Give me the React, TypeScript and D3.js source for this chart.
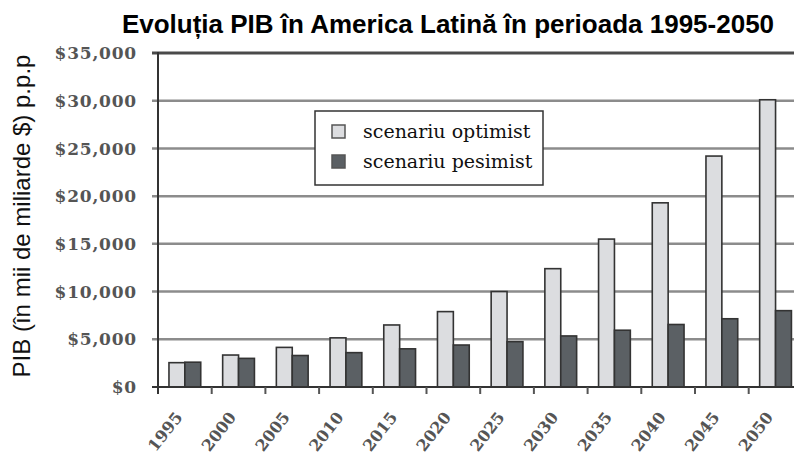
import React from "react";
import * as d3 from "d3";

const YEARS = ["1995", "2000", "2005", "2010", "2015", "2020", "2025", "2030", "2035", "2040", "2045", "2050"];
const OPTIMIST = [2550, 3350, 4150, 5150, 6500, 7900, 10000, 12400, 15500, 19300, 24200, 30100];
const PESIMIST = [2600, 3000, 3300, 3600, 4000, 4400, 4750, 5350, 5950, 6550, 7150, 8000];
const Y_TICKS = [0, 5000, 10000, 15000, 20000, 25000, 30000, 35000];
const SERIES = ["scenariu optimist", "scenariu pesimist"];

const WIDTH = 794;
const HEIGHT = 455;
const PLOT = { left: 158, top: 53, bottom: 387, step: 53.7 };

const COLORS = ["#dcdde0", "#5b6064"];

const App = () => {
  const yScale = d3.scaleLinear().domain([0, 35000]).range([PLOT.bottom, PLOT.top]);
  const xScale = d3
    .scaleBand()
    .domain(YEARS)
    .range([PLOT.left, PLOT.left + PLOT.step * YEARS.length])
    .padding(0);
  // two bars side by side in the middle of each year band
  const subScale = d3
    .scaleBand()
    .domain(SERIES)
    .range([0, xScale.bandwidth()])
    .paddingInner(0)
    .paddingOuter(0.69);
  const fmt = d3.format("$,");
  const values = [OPTIMIST, PESIMIST];

  return (
    <div style={{ position: "absolute", left: 0, top: 0 }}>
      <svg width={WIDTH} height={HEIGHT} style={{ display: "block", background: "#fff" }}>
        <text
          x={448}
          y={33}
          textAnchor="middle"
          fontFamily="'Liberation Sans', Arial, sans-serif"
          fontWeight="bold"
          fontSize={26}
          fill="#000"
        >
          Evoluția PIB în America Latină în perioada 1995-2050
        </text>

        <text
          transform={`translate(30,${216}) rotate(-90)`}
          textAnchor="middle"
          fontFamily="'Liberation Sans', Arial, sans-serif"
          fontSize={24}
          fill="#111"
        >
          PIB (în mii de miliarde $) p.p.p
        </text>

        {/* grid lines + y ticks */}
        {Y_TICKS.map((t) => (
          <g key={t}>
            {t > 0 && (
              <line
                x1={152}
                x2={WIDTH}
                y1={yScale(t)}
                y2={yScale(t)}
                stroke={t === 35000 ? "#4a4a4a" : "#8c8c8c"}
                strokeWidth={t === 35000 ? 3 : 2.5}
              />
            )}
            <text
              x={137}
              y={yScale(t)}
              dy="0.36em"
              textAnchor="end"
              fontFamily="'DejaVu Serif', serif"
              fontWeight="bold"
              fontSize={17}
              letterSpacing={0.8}
              fill="#555"
            >
              {fmt(t)}
            </text>
          </g>
        ))}

        {/* legend */}
        <rect x={315} y={111} width={228} height={74} fill="#fff" stroke="#333" strokeWidth={1.5} />
        {SERIES.map((s, i) => (
          <g key={s}>
            <rect
              x={332}
              y={125 + i * 30}
              width={13}
              height={13}
              fill={COLORS[i]}
              stroke="#555"
              strokeWidth={1.5}
            />
            <text
              x={363}
              y={131.5 + i * 30}
              dy="0.35em"
              fontFamily="'DejaVu Serif', serif"
              fontSize={19}
              fill="#111"
            >
              {s}
            </text>
          </g>
        ))}

        {/* bars */}
        {YEARS.map((yr, i) => (
          <g key={yr} transform={`translate(${xScale(yr)},0)`}>
            {SERIES.map((s, k) => (
              <rect
                key={s}
                x={subScale(s)}
                y={yScale(values[k][i])}
                width={subScale.bandwidth()}
                height={PLOT.bottom - yScale(values[k][i])}
                fill={COLORS[k]}
                stroke="#333"
                strokeWidth={1.6}
              />
            ))}
          </g>
        ))}

        {/* axes */}
        <line x1={PLOT.left} x2={PLOT.left} y1={PLOT.top - 1} y2={PLOT.bottom + 7} stroke="#333" strokeWidth={2} />
        <line x1={152} x2={WIDTH} y1={PLOT.bottom} y2={PLOT.bottom} stroke="#333" strokeWidth={2} />
        {YEARS.slice(1).map((yr) => (
          <line
            key={yr}
            x1={xScale(yr)}
            x2={xScale(yr)}
            y1={PLOT.bottom}
            y2={PLOT.bottom + 7}
            stroke="#555"
            strokeWidth={2}
          />
        ))}
        {YEARS.map((yr) => (
          <text
            key={yr}
            transform={`translate(${(xScale(yr) as number) + xScale.bandwidth() / 2 - 6},${414}) rotate(-52)`}
            textAnchor="end"
            dy="0.35em"
            fontFamily="'DejaVu Serif', serif"
            fontWeight="bold"
            fontSize={16}
            fill="#555"
          >
            {yr}
          </text>
        ))}
      </svg>
    </div>
  );
};

export default App;
